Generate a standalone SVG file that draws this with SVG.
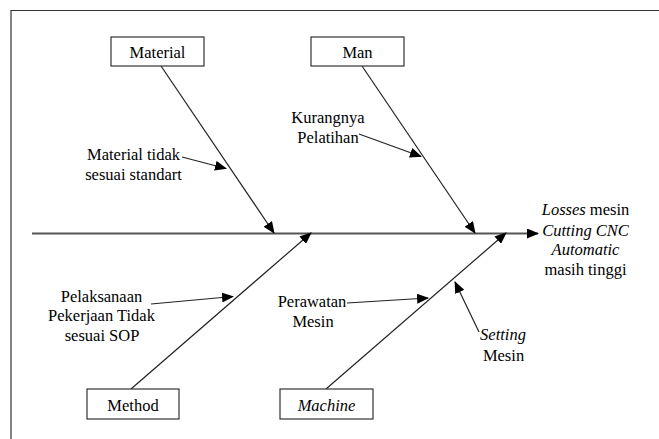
<svg xmlns="http://www.w3.org/2000/svg" width="659" height="439" viewBox="0 0 659 439">
<defs>
<style>
text{font-size:16.5px;fill:#000;text-anchor:middle}
.it{font-style:italic}
.box{fill:#fff;stroke:#333;stroke-width:1.2}
.ln{stroke:#222;stroke-width:1.2;fill:none}
.spine{stroke:#555;stroke-width:2;fill:none}
.frame{stroke:#333;stroke-width:1.2;fill:none}
</style>
<marker id="ah" markerUnits="userSpaceOnUse" markerWidth="12" markerHeight="10" viewBox="0 0 12 10" refX="11" refY="5" orient="auto">
<path d="M0,0 L12,5 L0,10 Z" fill="#000"/>
</marker>
</defs>
<rect width="659" height="439" fill="#fff"/>
<path class="frame" d="M11,439 V10.5 H659"/>
<g id="connectors">
<line class="spine" x1="32" y1="233.5" x2="538" y2="233.5" marker-end="url(#ah)"/>
<line class="ln" x1="161" y1="66" x2="274" y2="233" marker-end="url(#ah)"/>
<line class="ln" x1="362" y1="66" x2="475" y2="233" marker-end="url(#ah)"/>
<line class="ln" x1="131" y1="389" x2="311" y2="233" marker-end="url(#ah)"/>
<line class="ln" x1="326" y1="389" x2="506" y2="233" marker-end="url(#ah)"/>
<line class="ln" x1="182" y1="157" x2="226" y2="168.5" marker-end="url(#ah)"/>
<line class="ln" x1="359" y1="134" x2="421" y2="156.5" marker-end="url(#ah)"/>
<line class="ln" x1="151" y1="304" x2="233" y2="296.5" marker-end="url(#ah)"/>
<line class="ln" x1="347" y1="303" x2="428" y2="298" marker-end="url(#ah)"/>
<line class="ln" x1="479" y1="332" x2="455" y2="282" marker-end="url(#ah)"/>
</g>
<g font-family="'Times New Roman', 'Liberation Serif', Tinos, 'DejaVu Serif', serif">
<g id="material"><rect class="box" x="111" y="37" width="93" height="29"/><text x="157.5" y="58">Material</text></g>
<g id="man"><rect class="box" x="311" y="37" width="93" height="29"/><text x="357.5" y="58">Man</text></g>
<g id="method"><rect class="box" x="87" y="389" width="92" height="30"/><text x="133" y="411">Method</text></g>
<g id="machine"><rect class="box" x="280" y="389" width="93" height="30"/><text class="it" x="326.5" y="411">Machine</text></g>
<g id="effect"><text x="585.5" y="215"><tspan class="it">Losses</tspan> mesin</text><text class="it" x="585.5" y="235.5">Cutting CNC</text><text class="it" x="585.5" y="255">Automatic</text><text x="585.5" y="275">masih tinggi</text></g>
<g id="cause-material"><text x="133.5" y="160">Material tidak</text><text x="133.5" y="180">sesuai standart</text></g>
<g id="cause-man"><text x="328" y="122.5">Kurangnya</text><text x="328" y="142.5">Pelatihan</text></g>
<g id="cause-method"><text x="101.5" y="301.5">Pelaksanaan</text><text x="101.5" y="321">Pekerjaan Tidak</text><text x="102" y="340.5">sesuai SOP</text></g>
<g id="cause-machine1"><text x="312" y="307">Perawatan</text><text x="313" y="326.5">Mesin</text></g>
<g id="cause-machine2"><text class="it" x="503" y="340">Setting</text><text x="503.5" y="360.5">Mesin</text></g>
</g>
</svg>
